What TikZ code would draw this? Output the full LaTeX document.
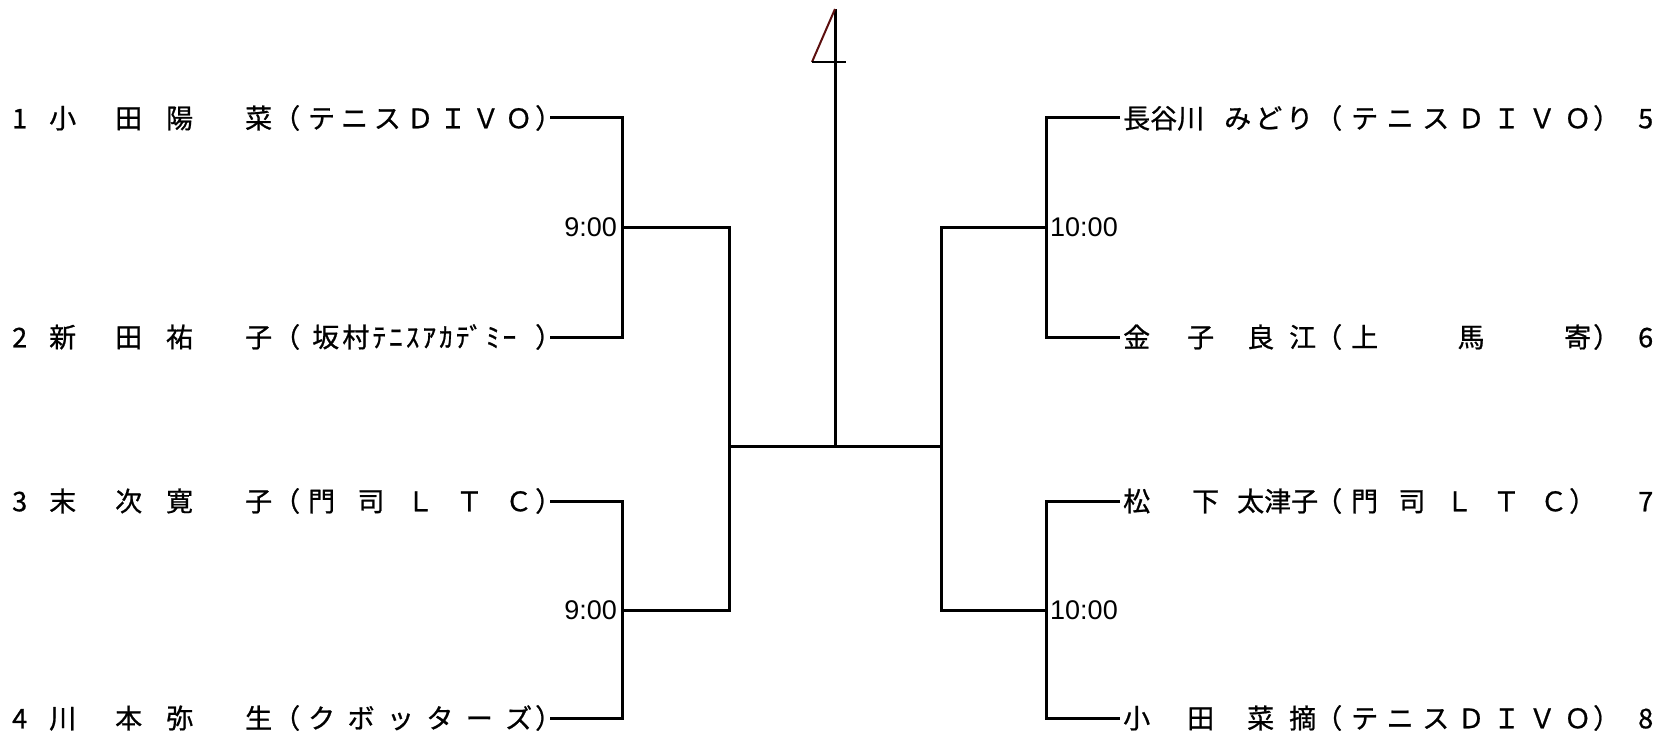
\documentclass[tikz,border=0pt]{standalone}
\usepackage{fontspec}
\usepackage{tikz}
\usetikzlibrary{positioning}
\newfontfamily\jpfont[FakeBold=0.8]{Noto Sans CJK JP}
\newfontfamily\timefont{Liberation Sans}
\definecolor{inkblack}{HTML}{000000}
\definecolor{darkwine}{HTML}{5C0F0F}
\newcommand{\lname}[4]{#1\hspace{39pt}#2\hspace{24pt}#3\hspace{52pt}#4}
\newcommand{\rname}[4]{#1\hspace{37pt}#2\hspace{33pt}#3\hspace{15pt}#4}
\newcommand{\lentry}[3]{\makebox[37pt][l]{#1}\makebox[224pt][l]{#2}\makebox[27pt][r]{（}\hspace{8pt}\makebox[224pt][s]{#3}\makebox[18pt][l]{\hspace{3pt}）}}
\newcommand{\rentry}[4]{\hspace{3pt}\makebox[192pt][l]{#1}\makebox[27pt][r]{（}\makebox[276pt][l]{\hspace{9pt}\makebox[#3][s]{#2}\hspace{2pt}）}\hspace{20pt}#4}

\begin{document}
\begin{tikzpicture}[x=1pt, y=-1pt,
  every node/.style={inner sep=0pt},
  entry/.style={font=\jpfont\fontsize{27pt}{27pt}\selectfont, anchor=west},
  timelbl/.style={font=\timefont\fontsize{27pt}{27pt}\selectfont},
  bline/.style={line width=3pt, draw=inkblack},
  numline/.style={line width=2pt},
]
\useasboundingbox (0,0) rectangle (1657,733);

% left half
\node[entry] (p1) at (12,118) {\lentry{1}{\lname{小}{田}{陽}{菜}}{テ\hfill ニ\hfill ス\hfill Ｄ\hfill Ｉ\hfill Ｖ\hfill Ｏ}};
\node[entry] (p2) at (12,337) {\lentry{2}{\lname{新}{田}{祐}{子}}{\hspace{4pt}坂\hfill 村\hfill ﾃ\hfill ﾆ\hfill ｽ\hfill ｱ\hfill ｶ\hfill ﾃﾞ\hfill ﾐ\hfill ｰ\hspace{16pt}}};
\node[entry] (p3) at (12,501) {\lentry{3}{\lname{末}{次}{寛}{子}}{門\hfill 司\hfill Ｌ\hfill Ｔ\hfill Ｃ}};
\node[entry] (p4) at (12,718) {\lentry{4}{\lname{川}{本}{弥}{生}}{ク\hfill ボ\hfill ッ\hfill タ\hfill ー\hfill ズ}};

% right half
\node[entry] (p5) at (1120,118) {\rentry{長谷川\hspace{20pt}み\hspace{4pt}ど\hspace{4pt}り}{テ\hfill ニ\hfill ス\hfill Ｄ\hfill Ｉ\hfill Ｖ\hfill Ｏ}{240pt}{5}};
\node[entry] (p6) at (1120,337) {\rentry{\rname{金}{子}{良}{江}}{上\hfill 馬\hfill 寄}{240pt}{6}};
\node[entry] (p7) at (1120,501) {\rentry{松\hspace{42pt}下\hspace{18pt}太津子}{門\hfill 司\hfill Ｌ\hfill Ｔ\hfill Ｃ}{216pt}{7}};
\node[entry] (p8) at (1120,718) {\rentry{\rname{小}{田}{菜}{摘}}{テ\hfill ニ\hfill ス\hfill Ｄ\hfill Ｉ\hfill Ｖ\hfill Ｏ}{240pt}{8}};

% junctions
\coordinate (j1) at (622,227);
\coordinate (j2) at (622,610);
\coordinate (j3) at (1046,227);
\coordinate (j4) at (1046,610);
\coordinate (sl) at (729,446);
\coordinate (sr) at (941,446);
\coordinate (fin) at (835,446);
\coordinate (top) at (835,9);
\coordinate (kink) at (812,62);
\coordinate (bar) at (846,62);

\node[timelbl, anchor=east, xshift=-5pt] (t1) at (j1) {9:00};
\node[timelbl, anchor=east, xshift=-5pt] (t2) at (j2) {9:00};
\node[timelbl, anchor=west, xshift=4pt] (t3) at (j3) {10:00};
\node[timelbl, anchor=west, xshift=4pt] (t4) at (j4) {10:00};

\draw[bline] (p1.east) -| (j1) |- (p2.east);
\draw[bline] (p3.east) -| (j2) |- (p4.east);
\draw[bline] (j1) -| (sl) |- (j2);
\draw[bline] (p5.west) -| (j3) |- (p6.west);
\draw[bline] (p7.west) -| (j4) |- (p8.west);
\draw[bline] (j3) -| (sr) |- (j4);
\draw[bline] (sl) -- (sr);
\draw[bline] (fin) -- (top);
\draw[numline, darkwine] (top) -- (kink);
\draw[numline, inkblack] (kink) -- (bar);
\end{tikzpicture}
\end{document}
